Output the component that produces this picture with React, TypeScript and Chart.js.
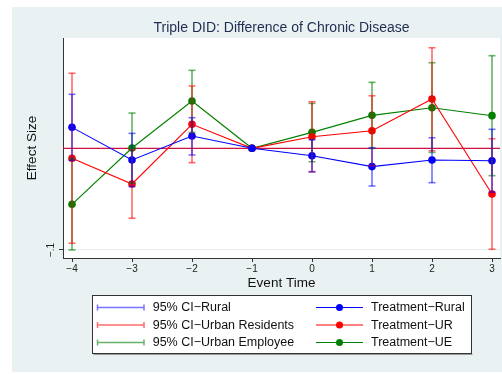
import { useEffect, useRef } from "react";
import { Chart, registerables } from "chart.js";

Chart.register(...registerables);

// Event time relative to the policy year (-1 is the reference period)
const eventTime = [-4, -3, -2, -1, 0, 1, 2, 3];

// Point estimates
const ruralEst = [0.0206, -0.0115, 0.0121, 0, -0.0073, -0.018, -0.0115, -0.0122];
const urEst = [-0.0098, -0.0351, 0.0236, 0, 0.0114, 0.0173, 0.0485, -0.0449];
const ueEst = [-0.0551, 0.0003, 0.0465, 0, 0.0157, 0.0324, 0.0399, 0.0321];

// 95% confidence bounds (none for the reference period)
const ruralLo = [-0.0119, -0.0377, -0.0066, null, -0.023, -0.0371, -0.0338, -0.0431];
const ruralHi = [0.0531, 0.0147, 0.0301, null, 0.0084, 0.0006, 0.0104, 0.0187];
const urLo = [-0.0934, -0.0688, -0.0141, null, -0.0233, -0.0171, -0.0024, -0.0993];
const urHi = [0.0738, -0.0014, 0.0613, null, 0.0458, 0.0517, 0.0989, 0.0094];
const ueLo = [-0.1, -0.0341, 0.0157, null, -0.0132, -0.0001, -0.004, -0.0269];
const ueHi = [-0.0102, 0.0347, 0.0767, null, 0.0442, 0.0649, 0.0842, 0.0911];

const yTickValues = [-0.1];
const yTickLabels = ["\u2212.1"];

const titleText = "Triple DID: Difference of Chronic Disease";
const xTitle = "Event Time";
const yTitle = "Effect Size";

const ciLabels = ["95% CI\u2212Rural", "95% CI\u2212Urban Residents", "95% CI\u2212Urban Employee"];
const estLabels = ["Treatment\u2212Rural", "Treatment\u2212UR", "Treatment\u2212UE"];

const FONT = '"Liberation Sans", Arial, Helvetica, sans-serif';

const BLUE = "#0000ff";
const RED = "#ff0000";
const GREEN = "#008000";
const BLUE_CI = "rgba(0,0,255,0.55)";
const RED_CI = "rgba(255,0,0,0.58)";
const GREEN_CI = "rgba(0,128,0,0.6)";

const fmtTick = (v: number) => (v < 0 ? "\u2212" + Math.abs(v) : String(v));

function ciSegments(lo: (number | null)[], hi: (number | null)[]) {
  const pts: { x: number; y: number | null }[] = [];
  eventTime.forEach((t, i) => {
    const a = lo[i];
    const b = hi[i];
    if (a == null || b == null) return;
    pts.push({ x: t, y: a }, { x: t, y: b }, { x: t, y: null });
  });
  return pts;
}

const series = (est: number[]) => eventTime.map((t, i) => ({ x: t, y: est[i] }));

const ciDataset = (label: string, lo: (number | null)[], hi: (number | null)[], color: string) => ({
  label,
  data: ciSegments(lo, hi),
  borderColor: color,
  borderWidth: 1.6,
  pointStyle: "line" as const,
  pointRadius: 3.5,
  pointBorderColor: color,
  pointBorderWidth: 1.6,
  pointBackgroundColor: color,
  spanGaps: false,
  fill: false,
  order: 0,
});

const estDataset = (label: string, est: number[], color: string) => ({
  label,
  data: series(est),
  borderColor: color,
  borderWidth: 1.1,
  pointStyle: "circle" as const,
  pointRadius: 3.8,
  pointBackgroundColor: color,
  pointBorderColor: color,
  pointBorderWidth: 0,
  fill: false,
  tension: 0,
  order: 1,
});

const framePlugin = {
  id: "frame",
  beforeDraw(chart: any) {
    const { ctx, chartArea } = chart;
    ctx.save();
    ctx.fillStyle = "#eaf1f3";
    ctx.fillRect(12, 7, 490, 365);
    ctx.fillStyle = "#ffffff";
    ctx.fillRect(chartArea.left, chartArea.top, chartArea.right - chartArea.left, chartArea.bottom - chartArea.top);
    ctx.restore();
  },
  beforeDatasetsDraw(chart: any) {
    const { ctx, chartArea } = chart;
    const y0 = chart.scales.y.getPixelForValue(0);
    ctx.save();
    ctx.strokeStyle = "#cc1040";
    ctx.lineWidth = 1.2;
    ctx.beginPath();
    ctx.moveTo(chartArea.left, y0);
    ctx.lineTo(chartArea.right, y0);
    ctx.stroke();
    ctx.restore();
  },
  afterDraw(chart: any) {
    const { ctx, chartArea } = chart;
    const yScale = chart.scales.y;
    ctx.save();

    // title
    ctx.fillStyle = "#1e2d4f";
    ctx.font = `14px ${FONT}`;
    ctx.textAlign = "center";
    ctx.textBaseline = "alphabetic";
    ctx.fillText(titleText, 281.5, 31.5);

    // axis titles
    ctx.fillStyle = "#111111";
    ctx.font = `13.5px ${FONT}`;
    ctx.textBaseline = "middle";
    ctx.fillText(xTitle, (chartArea.left + chartArea.right) / 2, 283);
    ctx.save();
    ctx.translate(32.5, (chartArea.top + chartArea.bottom) / 2);
    ctx.rotate(-Math.PI / 2);
    ctx.fillText(yTitle, 0, 0);
    ctx.restore();

    // rotated y tick labels
    ctx.font = `10px ${FONT}`;
    ctx.fillStyle = "#222222";
    yTickValues.forEach((v, i) => {
      const py = yScale.getPixelForValue(v);
      ctx.save();
      ctx.translate(51, py);
      ctx.rotate(-Math.PI / 2);
      ctx.textAlign = "center";
      ctx.textBaseline = "middle";
      ctx.fillText(yTickLabels[i], 0, 0);
      ctx.restore();
    });

    // legend
    const bx = 92.5, by = 295.5, bw = 379, bh = 58;
    ctx.fillStyle = "#ffffff";
    ctx.fillRect(bx, by, bw, bh);
    ctx.strokeStyle = "#999999";
    ctx.lineWidth = 1;
    ctx.beginPath();
    ctx.moveTo(bx + 1, by + bh + 1);
    ctx.lineTo(bx + bw + 1, by + bh + 1);
    ctx.stroke();
    ctx.strokeStyle = "#333333";
    ctx.strokeRect(bx, by, bw, bh);

    const rows = [307.5, 325, 342.5];
    const ciColors = [BLUE_CI, RED_CI, GREEN_CI];
    const estColors = [BLUE, RED, GREEN];
    ctx.font = `12.5px ${FONT}`;
    ctx.textAlign = "left";
    ctx.textBaseline = "middle";
    rows.forEach((ry, i) => {
      // CI symbol: capped horizontal bar
      ctx.strokeStyle = ciColors[i];
      ctx.lineWidth = 1.5;
      ctx.beginPath();
      ctx.moveTo(97.5, ry);
      ctx.lineTo(144, ry);
      ctx.moveTo(97.5, ry - 3);
      ctx.lineTo(97.5, ry + 3);
      ctx.moveTo(144, ry - 3);
      ctx.lineTo(144, ry + 3);
      ctx.stroke();
      ctx.fillStyle = "#111111";
      ctx.fillText(ciLabels[i], 152.7, ry + 0.5);

      // estimate symbol: line with marker
      ctx.strokeStyle = estColors[i];
      ctx.lineWidth = 1.2;
      ctx.beginPath();
      ctx.moveTo(316, ry);
      ctx.lineTo(363, ry);
      ctx.stroke();
      ctx.fillStyle = estColors[i];
      ctx.beginPath();
      ctx.arc(339.5, ry, 3.5, 0, Math.PI * 2);
      ctx.fill();
      ctx.fillStyle = "#111111";
      ctx.fillText(estLabels[i], 371, ry + 0.5);
    });
    ctx.restore();
  },
};

export default function App() {
  const canvasRef = useRef<HTMLCanvasElement | null>(null);

  useEffect(() => {
    const canvas = canvasRef.current;
    if (!canvas) return;
    const chart = new Chart(canvas, {
      type: "line",
      data: {
        datasets: [
          ciDataset(ciLabels[0], ruralLo, ruralHi, BLUE_CI),
          ciDataset(ciLabels[1], urLo, urHi, RED_CI),
          ciDataset(ciLabels[2], ueLo, ueHi, GREEN_CI),
          estDataset(estLabels[0], ruralEst, BLUE),
          estDataset(estLabels[1], urEst, RED),
          estDataset(estLabels[2], ueEst, GREEN),
        ] as any,
      },
      options: {
        animation: false,
        responsive: false,
        devicePixelRatio: 1,
        layout: { autoPadding: false, padding: { left: 12, top: 38, right: 2, bottom: 96 } },
        plugins: {
          legend: { display: false },
          title: { display: false },
          tooltip: { enabled: false },
        },
        scales: {
          x: {
            type: "linear",
            min: -4.15,
            max: 3.1333,
            afterBuildTicks: (scale: any) => {
              scale.ticks = eventTime.map((v) => ({ value: v }));
            },
            afterFit: (scale: any) => {
              scale.height = 20;
              scale.paddingLeft = 0;
              scale.paddingRight = 0;
            },
            grid: {
              drawOnChartArea: false,
              drawTicks: true,
              tickLength: 4,
              tickColor: "#333333",
              tickWidth: 1,
            },
            border: { display: true, color: "#333333", width: 1 },
            ticks: {
              autoSkip: false,
              maxRotation: 0,
              minRotation: 0,
              padding: 1,
              color: "#222222",
              font: { family: FONT, size: 10 },
              callback: (v: any) => fmtTick(Number(v)),
            },
          },
          y: {
            type: "linear",
            min: -0.1079,
            max: 0.1085,
            afterBuildTicks: (scale: any) => {
              scale.ticks = yTickValues.map((v) => ({ value: v }));
            },
            afterFit: (scale: any) => {
              scale.width = 51;
              scale.paddingTop = 0;
              scale.paddingBottom = 0;
            },
            grid: {
              drawOnChartArea: true,
              color: "#e4ecef",
              drawTicks: true,
              tickLength: 4,
              tickColor: "#333333",
              tickWidth: 1,
            },
            border: { display: true, color: "#333333", width: 1 },
            ticks: { display: false },
          },
        },
      },
      plugins: [framePlugin],
    });
    return () => chart.destroy();
  }, []);

  return (
    <div style={{ position: "absolute", left: 0, top: 0, width: 502, height: 374, background: "#ffffff" }}>
      <canvas ref={canvasRef} width={502} height={374} style={{ display: "block" }} />
    </div>
  );
}
